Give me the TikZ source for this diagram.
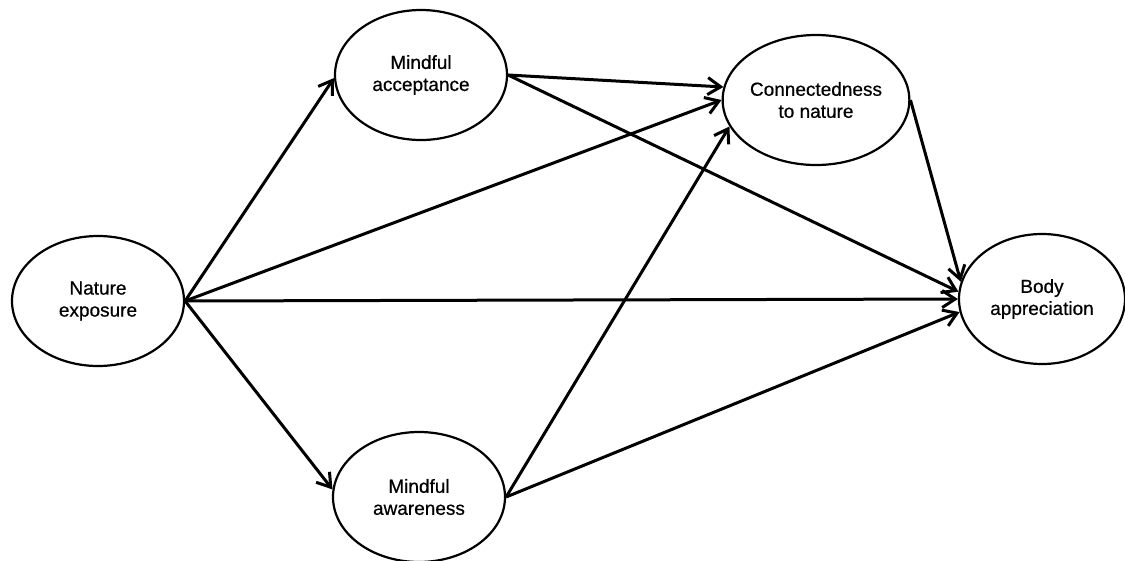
\documentclass[tikz,border=0pt]{standalone}
\usepackage{fontspec}
\setmainfont{Liberation Sans}
\newfontfamily\lblfont[BoldFont={Liberation Sans},BoldFeatures={FakeBold=0.6}]{Liberation Sans}
\usetikzlibrary{shapes.geometric,arrows.meta}
\begin{document}
\begin{tikzpicture}[x=1pt,y=-1pt,
  var/.style={draw=black,line width=2.2pt,ellipse,minimum width=172pt,minimum height=130pt,inner sep=0pt,align=center,font=\lblfont\bfseries\fontsize{19}{22}\selectfont},
  path/.style={draw=black,line width=3pt,-{Straight Barb[length=13pt,width=17pt]}}]
\useasboundingbox[fill=white] (0,0) rectangle (1125,560);
\node[var] (ne) at (98,301) {Nature\\exposure};
\node[var] (ma) at (421,75) {Mindful\\acceptance};
\node[var] (cn) at (816,100) {Connectedness\\to nature};
\node[var,minimum width=166pt] (ba) at (1042,299) {Body\\appreciation};
\node[var] (mw) at (419,497) {Mindful\\awareness};
\draw[path] (ne.east) -- (ma.182);
\draw[path] (ne.east) -- (cn.180);
\draw[path] (ne.east) -- (ba.180);
\draw[path] (ne.east) -- (mw.175);
\draw[path] (ma.east) -- (cn.172.8);
\draw[path] (ma.east) -- (ba.175.9);
\draw[path] (mw.east) -- (cn.197);
\draw[path] (mw.east) -- (ba.189.5);
\draw[path] (cn.east) -- (ba.168.7);
\end{tikzpicture}
\end{document}
